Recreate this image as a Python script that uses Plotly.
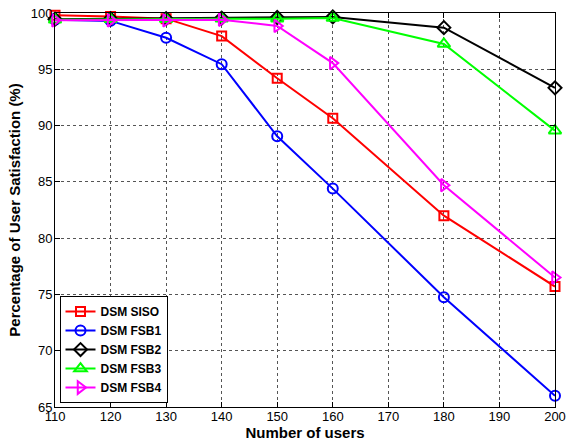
import plotly.graph_objects as go

users = [110, 120, 130, 140, 150, 160, 180, 200]
siso = [99.8, 99.7, 99.5, 97.95, 94.2, 90.65, 82.0, 75.7]
fsb1 = [99.4, 99.3, 97.8, 95.45, 89.05, 84.4, 74.75, 66.0]
fsb2 = [99.45, 99.5, 99.5, 99.55, 99.6, 99.65, 98.7, 93.35]
fsb3 = [99.4, 99.45, 99.45, 99.5, 99.5, 99.55, 97.25, 89.55]
fsb4 = [99.35, 99.35, 99.35, 99.4, 98.85, 95.55, 84.7, 76.5]

names = ["DSM SISO", "DSM FSB1", "DSM FSB2", "DSM FSB3", "DSM FSB4"]
series = [siso, fsb1, fsb2, fsb3, fsb4]
colors = ["#ff0000", "#0000ff", "#000000", "#00ff00", "#ff00ff"]
symbols = ["square-open", "circle-open", "diamond-open", "triangle-up-open", "triangle-right-open"]
sizes = [9, 10, 10, 11, 11]

xticks = [110, 120, 130, 140, 150, 160, 170, 180, 190, 200]
yticks = [65, 70, 75, 80, 85, 90, 95, 100]

FONT = "Liberation Sans, Arial, sans-serif"

fig = go.Figure()
for n, s, c, m, sz in zip(names, series, colors, symbols, sizes):
    fig.add_trace(go.Scatter(
        x=users, y=s, name="<b>" + n + "</b>", mode="lines+markers",
        line=dict(color=c, width=2),
        marker=dict(symbol=m, size=sz, color=c, line=dict(color=c, width=2)),
        cliponaxis=False,
    ))

axis_common = dict(
    showline=True, linecolor="black", linewidth=1, mirror="ticks",
    ticks="inside", ticklen=5, tickcolor="black",
    showgrid=True, gridcolor="#555555", griddash="dot", gridwidth=1,
    zeroline=False, automargin=False, ticklabeloverflow="allow",
    tickfont=dict(family=FONT, size=13, color="black"),
)

fig.update_xaxes(range=[110, 200], tickvals=xticks, ticklabelstandoff=-3, **axis_common,
                 title=dict(text="<b>Number of users</b>", standoff=2,
                            font=dict(family=FONT, size=15, color="black")))
fig.update_yaxes(range=[65, 100], tickvals=yticks, ticklabelstandoff=-1, **axis_common,
                 title=dict(text="<b>Percentage of User Satisfaction (%)</b>", standoff=6,
                            font=dict(family=FONT, size=15, color="black")))

fig.update_layout(
    template="none",
    width=566, height=446,
    margin=dict(l=55, r=11, t=13, b=39, autoexpand=False),
    paper_bgcolor="white", plot_bgcolor="white",
    legend=dict(x=0.009, y=0.01, xanchor="left", yanchor="bottom",
                bgcolor="white", bordercolor="black", borderwidth=1,
                font=dict(family=FONT, size=12, color="black"),
                itemwidth=30, tracegroupgap=0),
    showlegend=True,
)

# remove the browser's default page margin so the figure fills the window
fig.write_html("out.html",
               config={"displayModeBar": False},
               post_script="document.body.style.margin='0';document.body.style.overflow='hidden';")
